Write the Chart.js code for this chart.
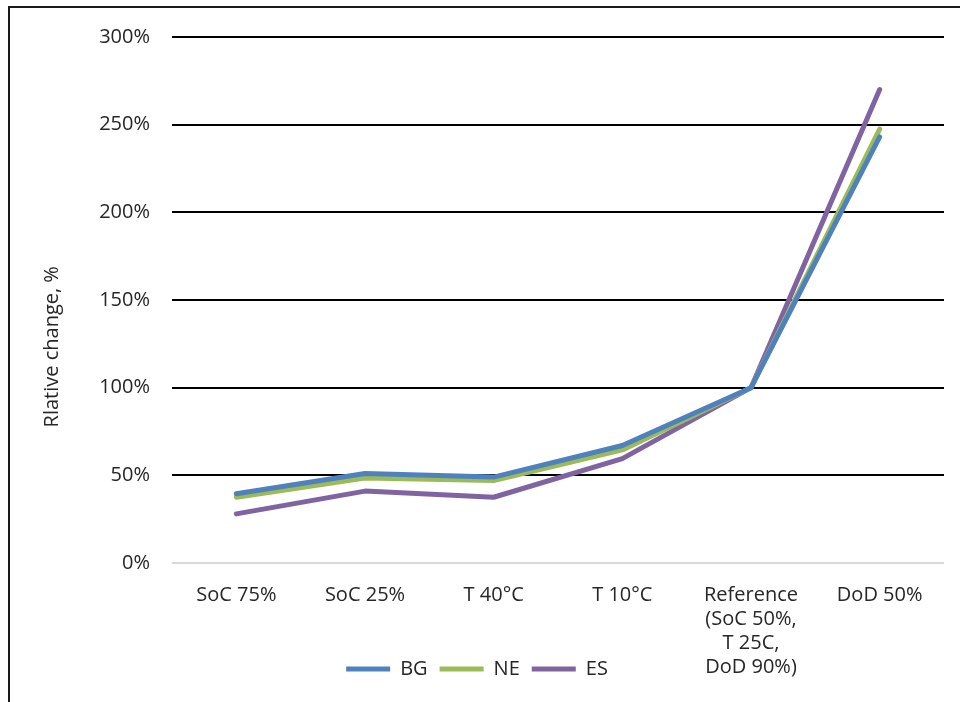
<!DOCTYPE html>
<html>
<head>
<meta charset="utf-8">
<script src="https://cdn.jsdelivr.net/npm/chart.js@4/dist/chart.umd.min.js"></script>
<style>
  html, body { margin: 0; padding: 0; background: #fff; }
  #wrap { width: 960px; height: 702px; position: relative; }
</style>
</head>
<body>
<div id="wrap"><canvas id="c" width="960" height="702"></canvas></div>
<script>
// Test conditions along the x axis
const categories = [
  'SoC 75%',
  'SoC 25%',
  'T 40°C',
  'T 10°C',
  ['Reference', '(SoC 50%,', 'T 25C,', 'DoD 90%)'],
  'DoD 50%'
];

// Relative change (%) per country
const bgValues = [39.5, 51, 49, 67, 100, 243];
const neValues = [37.5, 48.5, 47, 64.5, 100, 247.5];
const esValues = [28, 41, 37.5, 59.5, 100, 270];

// Y axis range and step (%)
const yMin = 0;
const yMax = 300;
const yStep = 50;

const FONT = "'Open Sans', 'DejaVu Sans', sans-serif";
const TEXT = '#262626';

// Thin black frame on the top and left edges
const framePlugin = {
  id: 'frame',
  beforeDraw(chart) {
    const ctx = chart.ctx;
    ctx.save();
    ctx.fillStyle = '#fff';
    ctx.fillRect(0, 0, chart.width, chart.height);
    ctx.strokeStyle = '#1a1a1a';
    ctx.lineWidth = 2;
    ctx.beginPath();
    ctx.moveTo(9, chart.height + 2);
    ctx.lineTo(9, 7);
    ctx.lineTo(chart.width + 2, 7);
    ctx.stroke();
    ctx.restore();
  }
};

// Nudge the legend a little to the left of the canvas centre
const legendShift = {
  id: 'legendShift',
  afterLayout(chart) {
    if (chart.legend) {
      chart.legend.left -= 10;
      chart.legend.right -= 10;
    }
  }
};

const lineDataset = (label, data, color) => ({
  label,
  data,
  borderColor: color,
  backgroundColor: color,
  borderWidth: 5,
  borderCapStyle: 'round',
  borderJoinStyle: 'round',
  pointRadius: 0,
  pointHoverRadius: 0,
  tension: 0,
  fill: false
});

new Chart(document.getElementById('c'), {
  type: 'line',
  data: {
    labels: categories,
    datasets: [
      lineDataset('BG', bgValues, '#4F81BD'),
      lineDataset('NE', neValues, '#9BBB59'),
      lineDataset('ES', esValues, '#8064A2')
    ]
  },
  plugins: [framePlugin, legendShift],
  options: {
    responsive: false,
    animation: false,
    devicePixelRatio: 1,
    layout: { padding: { left: 30, right: 16, top: 37, bottom: 13 } },
    plugins: {
      tooltip: { enabled: false },
      legend: {
        position: 'bottom',
        labels: {
          font: { family: FONT, size: 20 },
          color: TEXT,
          boxWidth: 44,
          boxHeight: 5,
          padding: 12,
          generateLabels(chart) {
            return Chart.defaults.plugins.legend.labels.generateLabels(chart).map(item => {
              item.lineWidth = 0;
              item.fillStyle = item.strokeStyle;
              return item;
            });
          }
        }
      }
    },
    scales: {
      x: {
        offset: true,
        grid: { display: false, drawTicks: false, offset: true },
        border: { display: false },
        ticks: {
          font: { family: FONT, size: 20, lineHeight: 1.2 },
          color: TEXT,
          padding: 20,
          maxRotation: 0,
          minRotation: 0,
          autoSkip: false
        },
        afterFit(scale) {
          scale.height = 84;
          // multi-line labels run down past the axis box, next to the legend
          scale._computeLabelArea = () => undefined;
        }
      },
      y: {
        min: yMin,
        max: yMax,
        border: { display: false },
        grid: {
          drawTicks: false,
          lineWidth: 2,
          color: ctx => (ctx.tick && ctx.tick.value === 0) ? '#d9d9d9' : '#000'
        },
        ticks: {
          stepSize: yStep,
          font: { family: FONT, size: 20 },
          color: TEXT,
          padding: 22,
          callback: v => v + '%'
        },
        title: {
          display: true,
          // trailing no-break spaces sit the title a bit below the axis middle
          text: 'Rlative change, %' + '\u00A0'.repeat(18),
          font: { family: FONT, size: 20 },
          color: TEXT,
          padding: { top: 10, bottom: 0 }
        },
        afterFit(scale) { scale.width = 142; }
      }
    }
  }
});
</script>
</body>
</html>
